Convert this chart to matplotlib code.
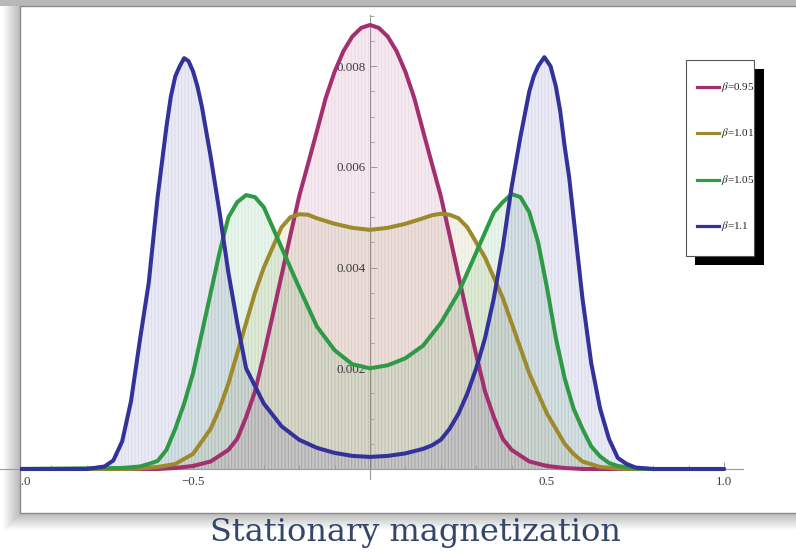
import matplotlib
matplotlib.use("Agg")
import matplotlib.pyplot as plt
from matplotlib.patches import Rectangle
from matplotlib.lines import Line2D
from matplotlib.colors import to_rgba

plt.rcParams['mathtext.fontset'] = 'stix'
plt.rcParams['hatch.linewidth'] = 0.6

# ---------------- data ----------------
labels = [r'$\beta$=0.95', r'$\beta$=1.01', r'$\beta$=1.05', r'$\beta$=1.1']

x_095 = [-1.0, -0.60, -0.55, -0.50, -0.45, -0.40, -0.375, -0.35, -0.325, -0.30,
         -0.275, -0.25, -0.225, -0.20, -0.175, -0.15, -0.125, -0.10, -0.075, -0.05,
         -0.025, 0.0, 0.025, 0.05, 0.075, 0.10, 0.125, 0.15, 0.175, 0.20,
         0.225, 0.25, 0.275, 0.30, 0.325, 0.35, 0.375, 0.40, 0.45, 0.50,
         0.55, 0.60, 1.0]
p_095 = [0, 0, 0.00002, 0.00006, 0.00015, 0.00038, 0.0006, 0.00103, 0.00154, 0.00227,
         0.00305, 0.00384, 0.00464, 0.00542, 0.00606, 0.00671, 0.00737, 0.00789, 0.0083, 0.00859,
         0.00876, 0.00882, 0.00876, 0.00859, 0.0083, 0.00789, 0.00737, 0.00671, 0.00606, 0.00542,
         0.00464, 0.00384, 0.00305, 0.00227, 0.00154, 0.00103, 0.0006, 0.00038, 0.00015, 0.00006,
         0.00002, 0, 0]

x_101 = [-1.0, -0.70, -0.65, -0.60, -0.55, -0.50, -0.45, -0.425, -0.40, -0.375,
         -0.35, -0.325, -0.30, -0.275, -0.25, -0.225, -0.20, -0.175, -0.15, -0.10,
         -0.05, 0.0, 0.05, 0.10, 0.15, 0.175, 0.20, 0.225, 0.25, 0.275,
         0.30, 0.325, 0.35, 0.375, 0.40, 0.425, 0.45, 0.475, 0.50, 0.525,
         0.55, 0.575, 0.60, 0.65, 0.70, 0.75, 1.0]
p_101 = [0, 0, 0.00001, 0.00004, 0.0001, 0.0003, 0.0008, 0.0012, 0.0017, 0.0023,
         0.0029, 0.0035, 0.0040, 0.0044, 0.0048, 0.0050, 0.00506, 0.00505, 0.00498, 0.00487,
         0.00479, 0.00475, 0.00479, 0.00487, 0.00498, 0.00504, 0.00507, 0.00505, 0.00498, 0.0048,
         0.0045, 0.0042, 0.0038, 0.0034, 0.0029, 0.0024, 0.0019, 0.0015, 0.0011, 0.0008,
         0.0005, 0.0003, 0.00015, 0.00004, 0.00001, 0, 0]

x_105 = [-1.0, -0.70, -0.65, -0.625, -0.60, -0.575, -0.55, -0.525, -0.50, -0.475,
         -0.45, -0.425, -0.40, -0.375, -0.35, -0.325, -0.30, -0.275, -0.25, -0.225,
         -0.20, -0.15, -0.10, -0.05, 0.0, 0.05, 0.10, 0.15, 0.20, 0.25,
         0.275, 0.30, 0.325, 0.35, 0.375, 0.40, 0.425, 0.45, 0.475, 0.50,
         0.525, 0.55, 0.575, 0.60, 0.625, 0.65, 0.675, 0.70, 0.75, 0.80,
         1.0]
p_105 = [0, 0.00002, 0.00005, 0.0001, 0.00016, 0.00038, 0.0008, 0.0013, 0.0019, 0.0027,
         0.0035, 0.0043, 0.0050, 0.0053, 0.00544, 0.0054, 0.0052, 0.0048, 0.0044, 0.0040,
         0.0036, 0.00283, 0.00236, 0.00208, 0.0020, 0.00206, 0.0022, 0.00245, 0.0029, 0.0035,
         0.0039, 0.0043, 0.0047, 0.0051, 0.0053, 0.00546, 0.0054, 0.0051, 0.0045, 0.0036,
         0.0026, 0.0018, 0.0012, 0.0008, 0.00045, 0.00025, 0.00012, 0.00006, 0.00001, 0,
         0]

x_110 = [-1.0, -0.80, -0.75, -0.725, -0.70, -0.675, -0.65, -0.625, -0.60, -0.575,
         -0.5625, -0.55, -0.5375, -0.525, -0.5125, -0.50, -0.4875, -0.475, -0.4625, -0.45,
         -0.425, -0.40, -0.375, -0.35, -0.30, -0.25, -0.20, -0.15, -0.10, -0.05,
         0.0, 0.05, 0.10, 0.15, 0.175, 0.20, 0.225, 0.25, 0.275, 0.30,
         0.325, 0.35, 0.375, 0.40, 0.425, 0.45, 0.4625, 0.475, 0.4925, 0.51,
         0.525, 0.5375, 0.55, 0.5625, 0.575, 0.60, 0.625, 0.65, 0.675, 0.70,
         0.725, 0.75, 0.80, 1.0]
p_110 = [0, 0, 0.00005, 0.00017, 0.00055, 0.00135, 0.00256, 0.0037, 0.0054, 0.0068,
         0.0074, 0.0078, 0.0080, 0.00816, 0.0081, 0.0079, 0.0076, 0.0072, 0.0067, 0.0062,
         0.0051, 0.0039, 0.0029, 0.0020, 0.0013, 0.00085, 0.00058, 0.00042, 0.00032, 0.00026,
         0.00024, 0.00026, 0.00031, 0.0004, 0.00047, 0.00058, 0.0008, 0.0011, 0.0015, 0.0020,
         0.0026, 0.0034, 0.0044, 0.0056, 0.0066, 0.0075, 0.0078, 0.0080, 0.00818, 0.0080,
         0.0076, 0.0071, 0.0064, 0.0058, 0.0050, 0.0034, 0.0021, 0.0012, 0.0006, 0.00022,
         0.0001, 0.00003, 0, 0]

x_major = [-0.5, 0.5, 1.0]
x_major_labels = ['\u22120.5', '0.5', '1.0']
x_minor = [-0.9, -0.8, -0.7, -0.6, -0.4, -0.3, -0.2, -0.1, 0.1, 0.2, 0.3, 0.4, 0.6, 0.7, 0.8, 0.9]
y_major = [0.002, 0.004, 0.006, 0.008]
y_major_labels = ['0.002', '0.004', '0.006', '0.008']
y_minor = [0.0005, 0.001, 0.0015, 0.0025, 0.003, 0.0035, 0.0045, 0.005, 0.0055,
           0.0065, 0.007, 0.0075, 0.0085, 0.009]

series = [(x_095, p_095), (x_101, p_101), (x_105, p_105), (x_110, p_110)]
colors = ['#a3306e', '#9c8a2c', '#2f9a45', '#32329a']

# ---------------- layout ----------------
W, H = 796, 553
def fx(px):
    return px / W
def fy(py):
    return 1 - py / H

fig = plt.figure(figsize=(W / 100, H / 100), dpi=100)
fig.patch.set_facecolor('white')

# shadow around the frame
for k in range(1, 18):
    fig.add_artist(Rectangle((fx(20 - k), fy(513 + k)), fx(W + 40), (513 - 6 + 2 * k) / H,
                             transform=fig.transFigure, facecolor='black',
                             alpha=0.016, edgecolor='none', zorder=-3))
# top grey band
fig.add_artist(Rectangle((0, fy(6)), 1, 6 / H, transform=fig.transFigure,
                         facecolor='#b8b8b8', edgecolor='none', zorder=-2))
# white frame
fig.add_artist(Rectangle((fx(20), fy(513)), fx(W), (513 - 6) / H, transform=fig.transFigure,
                         facecolor='white', edgecolor='#8a8a8a', linewidth=1.0, zorder=-1))

ax = fig.add_axes([fx(20), fy(513), (W - 20) / W, (513 - 6) / H])
ax.patch.set_alpha(0)
ax.set_xlim((20 - 370) / 354, (W - 370) / 354)
ax.set_ylim((469 - 513) * 0.002 / 100.7, (469 - 6) * 0.002 / 100.7)

for s in ['top', 'right']:
    ax.spines[s].set_visible(False)
ax.spines['left'].set_position(('data', 0))
ax.spines['bottom'].set_position(('data', 0))
ax.spines['left'].set_bounds(-0.0002, 0.00902)
ax.spines['bottom'].set_bounds(-1.06, 1.054)
for s in ['left', 'bottom']:
    ax.spines[s].set_color('#9a9a9a')
    ax.spines[s].set_linewidth(0.8)
    ax.spines[s].set_zorder(0.5)

ax.set_xticks(x_major)
ax.set_xticklabels(x_major_labels)
ax.set_xticks(x_minor, minor=True)
ax.set_yticks(y_major)
ax.set_yticklabels(y_major_labels)
ax.set_yticks(y_minor, minor=True)
ax.tick_params(axis='both', which='major', direction='in', length=5, width=0.7,
               color='#9a9a9a', labelsize=9.3, labelcolor='#3a3a3a')
ax.tick_params(axis='both', which='minor', direction='in', length=3, width=0.6,
               color='#9a9a9a')
ax.tick_params(axis='x', which='major', pad=5)
ax.tick_params(axis='y', which='major', pad=3)
for lab in ax.get_xticklabels() + ax.get_yticklabels():
    lab.set_fontfamily('Liberation Serif')
# -1.0 label, clipped by the frame
ax.text(-0.992, -0.00025, '\u22121.0', ha='center', va='center', fontsize=9.3,
        family='Liberation Serif', color='#3a3a3a', clip_on=True)

for i, ((xs, ps), c) in enumerate(zip(series, colors)):
    ax.fill_between(xs, ps, 0, facecolor=to_rgba(c, 0.10),
                    edgecolor=to_rgba(c, 0.09), hatch='|||||',
                    linewidth=0, zorder=1 + i * 0.01)
for i, ((xs, ps), c) in enumerate(zip(series, colors)):
    ax.plot(xs, ps, color=c, lw=2.9, solid_capstyle='round', solid_joinstyle='round',
            zorder=3 + i * 0.01)

# legend with shadow
fig.add_artist(Rectangle((fx(695), fy(265)), (764 - 695) / W, (265 - 69) / H,
                         transform=fig.transFigure, facecolor='black', edgecolor='none', zorder=5))
fig.add_artist(Rectangle((fx(686), fy(256)), (754 - 686) / W, (256 - 60) / H,
                         transform=fig.transFigure, facecolor='white', edgecolor='#555555',
                         linewidth=0.8, zorder=6))
for lab, c, py in zip(labels, colors, [87, 133, 180, 226]):
    fig.add_artist(Line2D([fx(697), fx(719)], [fy(py), fy(py)], transform=fig.transFigure,
                          color=c, lw=2.3, zorder=7))
    fig.text(fx(721), fy(py), lab, ha='left', va='center', fontsize=8,
             family='Liberation Serif', color='#222222', zorder=7)

fig.text(fx(415), fy(541), 'Stationary magnetization', ha='center', va='baseline',
         fontsize=23, family='DejaVu Serif', color='#34466a')

fig.savefig('out.png', dpi=100)
